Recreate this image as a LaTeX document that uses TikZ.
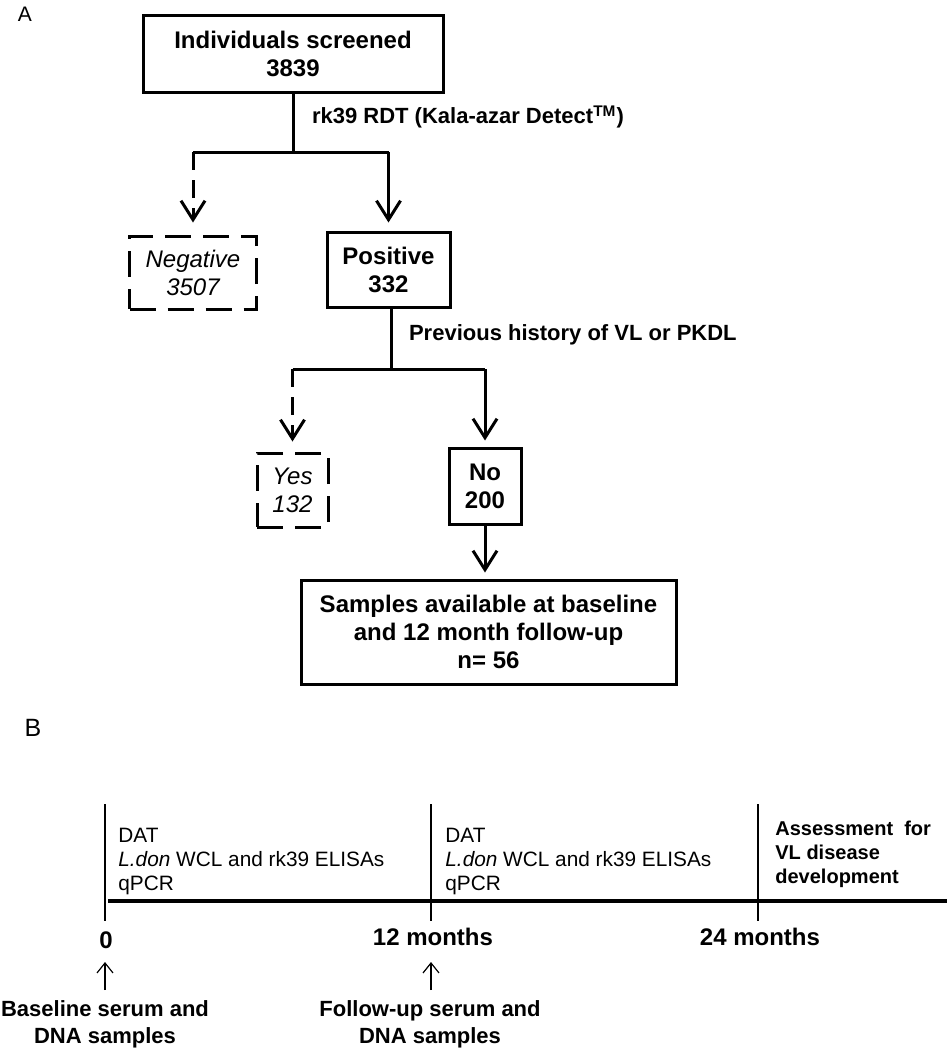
\documentclass[tikz,border=0pt]{standalone}
\usepackage{fontspec}
\setmainfont{Liberation Sans}
\usetikzlibrary{arrows.meta, positioning}

\begin{document}
\begin{tikzpicture}[x=0.5pt, y=-0.5pt,
    box/.style={draw, line width=1.5pt, align=center, inner sep=0pt,
        font=\fontsize{12}{14}\selectfont\bfseries},
    dbox/.style={box, dash pattern=on 13pt off 6pt,
        font=\fontsize{12}{14}\selectfont\itshape},
    link/.style={line width=1.5pt},
    arr/.style={link, -{Straight Barb[length=9.5pt, width=12pt, line width=1.5pt]}},
    darr/.style={arr, dash pattern=on 9pt off 5pt},
    lbl/.style={anchor=west, font=\fontsize{11}{13}\selectfont\bfseries},
    panel/.style={font=\fontsize{11}{13}\selectfont},
    timetick/.style={line width=0.6pt},
    timetext/.style={anchor=west, align=left, inner sep=0pt,
        font=\fontsize{10.4}{12}\selectfont},
    timelbl/.style={font=\fontsize{12}{14}\selectfont\bfseries},
    sample/.style={align=center, font=\fontsize{11}{13.5}\selectfont\bfseries},
    uparr/.style={line width=0.6pt, -{Straight Barb[length=5pt, width=8pt, line width=0.6pt]}}]
    \useasboundingbox (0,0) rectangle (949,1050);
    % panel letters
    \node[panel, font=\fontsize{10.5}{12}\selectfont] (pa) at (25,14) {A};
    \node[panel, font=\fontsize{12.5}{14}\selectfont] (pb) at (33,728) {B};
    % flow chart boxes
    \node[box, minimum width=150pt, minimum height=38.5pt] (screen) at (293,53.5)
        {Individuals screened\\3839};
    \node[dbox, minimum width=63.5pt, minimum height=36.5pt] (neg) at (193,272.5)
        {Negative\\3507};
    \node[box, minimum width=61.5pt, minimum height=37.5pt] (pos) at (388.5,269.5)
        {Positive\\332};
    \node[dbox, minimum width=35.5pt, minimum height=37pt] (yes) at (292.5,490)
        {Yes\\132};
    \node[box, minimum width=36pt, minimum height=38pt] (no) at (485,486)
        {No\\200};
    \node[box, minimum width=187.5pt, minimum height=52pt] (samples) at (488.5,632)
        {Samples available at baseline\\and 12 month follow-up\\n= 56};
    % branch points
    \coordinate (b1) at (293,152);
    \coordinate (b2) at (391,369);
    \draw[link] (screen) -- (b1);
    \draw[link] (b1 -| neg) -- (b1 -| pos);
    \draw[darr, shorten >=6pt] (b1 -| neg) -- (neg);
    \draw[arr, shorten >=4pt] (b1 -| pos) -- (pos);
    \node[lbl] (rdt) at (305,117) {rk39 RDT (Kala-azar Detect\textsuperscript{TM})};
    \draw[link] (pos.south -| b2) -- (b2);
    \draw[link] (b2 -| yes) -- (b2 -| no);
    \draw[darr, shorten >=5pt] (b2 -| yes) -- (yes);
    \draw[arr, shorten >=3pt] (b2 -| no) -- (no);
    \node[lbl] (hist) at (402,335) {Previous history of VL or PKDL};
    \draw[arr, shorten >=3pt] (no) -- (no |- samples.north);
    % time line
    \foreach \x in {105,431,758}
        \draw[timetick] (\x,804) -- (\x,921);
    \draw[line width=2pt] (108,901) -- (947,901);
    \node[timetext] (visit0) at (118,861)
        {DAT\\\textit{L.don} WCL and rk39 ELISAs\\qPCR};
    \node[timetext] (visit12) at (445,861)
        {DAT\\\textit{L.don} WCL and rk39 ELISAs\\qPCR};
    \node[timetext, font=\fontsize{10}{12}\selectfont\bfseries] (visit24) at (775,854)
        {Assessment\ \ for\\VL disease\\development};
    \node[timelbl] (t0) at (106,940) {0};
    \node[timelbl] (t12) at (433,937) {12 months};
    \node[timelbl] (t24) at (760,937) {24 months};
    \node[sample] (base) at (105,1024) {Baseline serum and\\DNA samples};
    \node[sample] (follow) at (430,1024) {Follow-up serum and\\DNA samples};
    % sampling arrows
    \coordinate (s0) at (105,990);
    \coordinate (s12) at (431,990);
    \draw[uparr] (s0) -- (105,962);
    \draw[uparr] (s12) -- (431,962);
\end{tikzpicture}
\end{document}
